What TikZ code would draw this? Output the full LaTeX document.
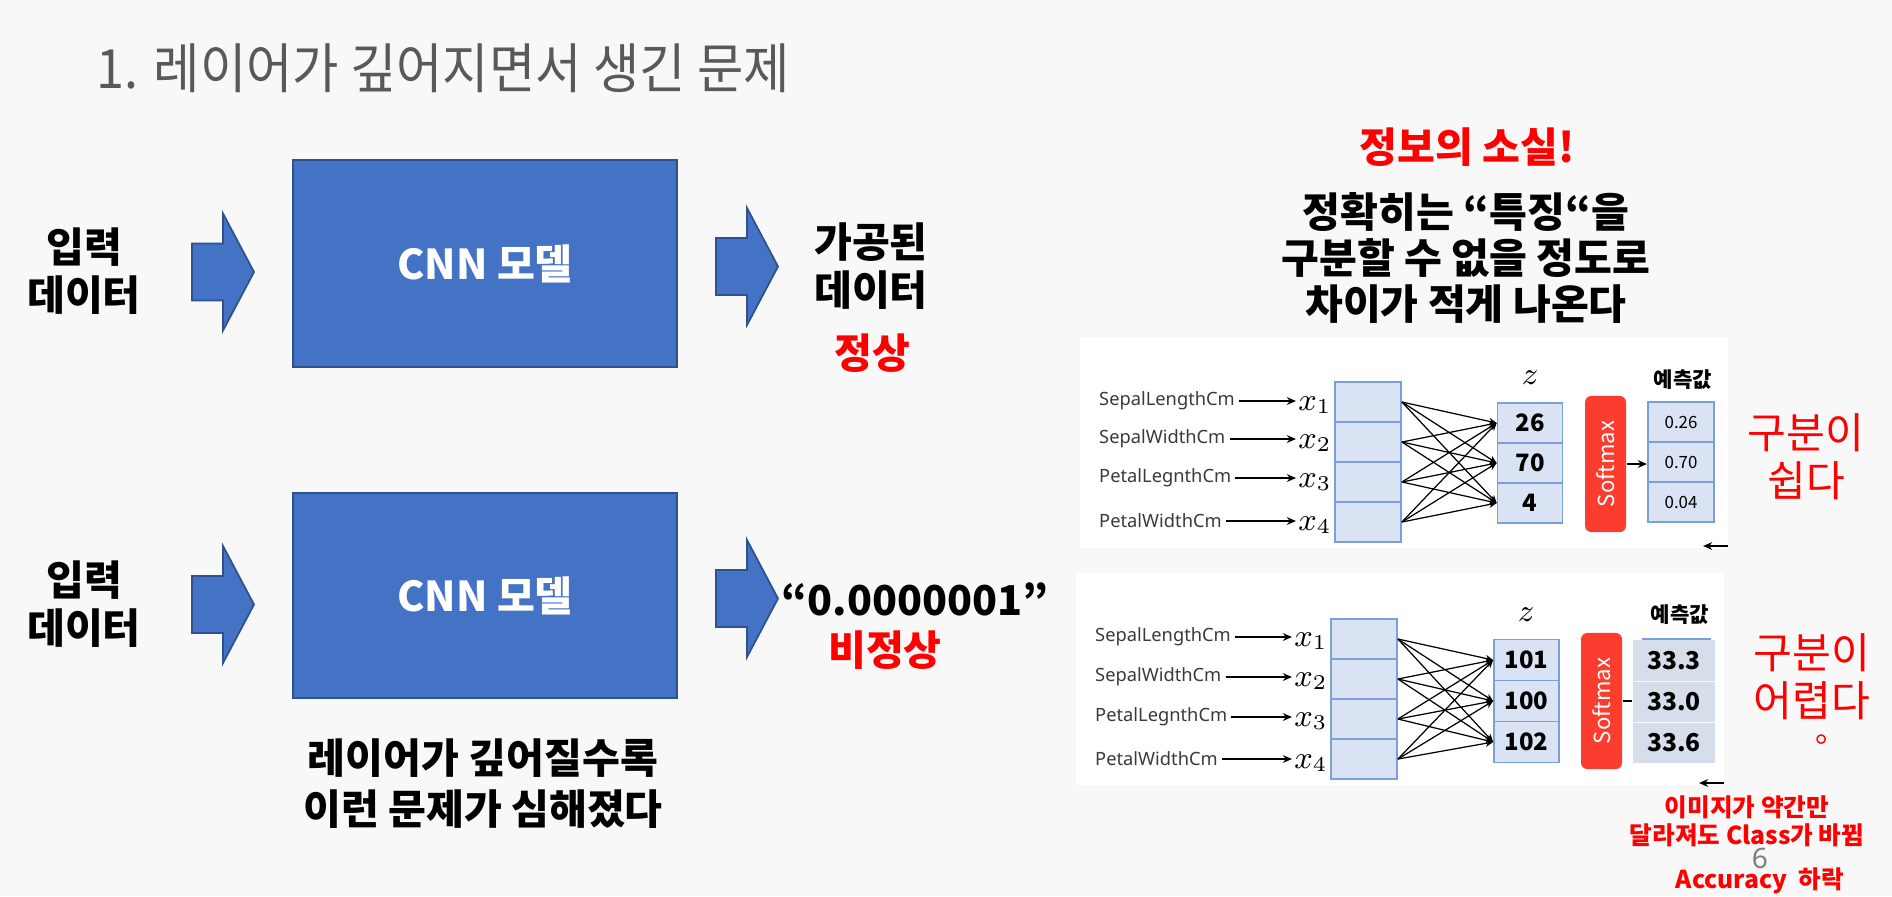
\documentclass[tikz,border=0pt]{standalone}
\usepackage[no-math]{fontspec}
\setmainfont{Noto Sans CJK KR}
\newfontfamily\latfont{Noto Sans}
\usetikzlibrary{arrows.meta,positioning}

\definecolor{bgc}{HTML}{F8F8F8}
\definecolor{boxblue}{HTML}{4472C4}
\definecolor{boxedge}{HTML}{2F528F}
\definecolor{alertred}{HTML}{FF0000}
\definecolor{softred}{HTML}{FA3D2E}
\definecolor{cellfill}{HTML}{DAE3F3}
\definecolor{celledge}{HTML}{7A9FDB}
\definecolor{predfill}{HTML}{D6DEEC}
\definecolor{titlegray}{HTML}{595959}
\definecolor{featgray}{HTML}{3A3A3A}

\tikzset{
  titletxt/.style={font=\fontsize{15.4}{18}\selectfont, text=titlegray, inner sep=0pt},
  bigtxt/.style={font=\fontsize{11.7}{13.7}\selectfont\bfseries, align=center, inner sep=0pt},
  judge/.style={font=\fontsize{12}{13.7}\selectfont, text=alertred, align=center, inner sep=0pt},
  note/.style={font=\fontsize{7}{8}\selectfont\bfseries, text=alertred, align=center, inner sep=0pt},
  cnnbox/.style={draw=boxedge, line width=0.5pt, fill=boxblue, text=white,
    font=\fontsize{11.7}{13.7}\selectfont\bfseries, minimum width=3.84cm},
  feat/.style={font=\latfont\fontsize{5.2}{6}\selectfont, text=featgray, inner sep=1pt},
  xvar/.style={font=\fontsize{9}{10}\selectfont, inner sep=0.5pt},
  incell/.style={draw=celledge, fill=cellfill, line width=0.5pt, minimum width=0.66cm, minimum height=0.4cm, inner sep=0pt},
  zcell/.style={incell, minimum width=0.65cm, font=\fontsize{6.8}{8}\selectfont\bfseries},
  predcell/.style={incell, line width=0.6pt, font=\fontsize{4.8}{6}\selectfont},
  predcellB/.style={fill=predfill, minimum width=0.82cm, minimum height=0.41cm, inner sep=0pt, font=\fontsize{7}{8}\selectfont\bfseries},
  smbox/.style={fill=softred, rounded corners=1.8pt, minimum width=0.41cm, minimum height=1.36cm, inner sep=0pt,
    text=white, font=\fontsize{6.3}{7}\selectfont},
  predhead/.style={font=\fontsize{6}{7}\selectfont\bfseries, inner sep=0pt},
  wire/.style={line width=0.35pt, -{Stealth[length=2.2pt,width=2pt]}},
  feedarr/.style={line width=0.4pt, -{Stealth[length=2.6pt,width=2.2pt]}},
  blockarr/.pic={
    \draw[fill=boxblue, draw=boxedge, line width=0.5pt]
      (0,-28.5) -- (31,-28.5) -- (31,-58.5) -- (62,0) -- (31,58.5) -- (31,28.5) -- (0,28.5) -- cycle;
  }
}

\begin{document}
\begin{tikzpicture}[x=0.01cm, y=-0.01cm, >=stealth]

  \fill[bgc] (0,0) rectangle (1892,896);
  \useasboundingbox (0,0) rectangle (1892,896);

  % ── title ──────────────────────────────────────────────
  \node[titletxt, anchor=west] (title) at (96,68) {\scalebox{0.93}[1]{1. 레이어가 깊어지면서 생긴 문제}};

  % ── left: normal case ──────────────────────────────────
  \node[bigtxt] (inA) at (84,271) {입력\\데이터};
  \pic (arrA1) at (192,272) {blockarr};
  \node[cnnbox, minimum height=2.07cm] (cnnA) at (485,263.5) {CNN 모델};
  \pic (arrA2) at (716,266.5) {blockarr};
  \node[bigtxt] (outA) at (871,266) {가공된\\데이터};
  \node[bigtxt, text=alertred] (okA) at (872,353) {정상};

  % ── left: deep case ────────────────────────────────────
  \node[bigtxt] (inB) at (84,604) {입력\\데이터};
  \pic (arrB1) at (192,604.5) {blockarr};
  \node[cnnbox, minimum height=2.05cm] (cnnB) at (485,595.5) {CNN 모델};
  \pic (arrB2) at (716,598.5) {blockarr};
  \node[bigtxt, anchor=west] (outB) at (781,599) {“0.0000001”};
  \node[bigtxt, text=alertred] (badB) at (885,650) {비정상};
  \node[bigtxt, font=\fontsize{11.7}{14.5}\selectfont\bfseries] (capB) at (483,784) {레이어가 깊어질수록\\이런 문제가 심해졌다};

  % ── right: header ──────────────────────────────────────
  \node[bigtxt, text=alertred] (lossT) at (1467,147) {정보의 소실!};
  \node[bigtxt, font=\fontsize{11.7}{13.2}\selectfont\bfseries] (lossD) at (1466,258) {정확히는 “특징“을\\구분할 수 없을 정도로\\차이가 적게 나온다};

  % ── panel A (easy) ─────────────────────────────────────
  \fill[white] (1080,337) rectangle (1728,548);
  \foreach \i/\t/\y in {1/SepalLengthCm/401, 2/SepalWidthCm/439, 3/PetalLegnthCm/478, 4/PetalWidthCm/521}{
    \node[feat, anchor=west] (fA\i) at (1095,\y) {\t};
    \node[xvar, anchor=west] (xA\i) at (1296,{\y+4}) {$x_\i$};
    \draw[feedarr] (fA\i.east) -- (fA\i.east -| xA\i.west);
  }
  \foreach \i in {1,...,4}
    \node[incell] (inA\i) at (1368,{362+40*\i}) {};
  \foreach \j/\v in {1/26,2/70,3/4}
    \node[zcell] (zA\j) at (1530,{383+40*\j}) {\v};
  \node[xvar] (zlA) at (1530,378) {$z$};
  \foreach \i in {1,...,4}
    \foreach \j in {1,2,3}
      \draw[wire] (inA\i.east) -- (zA\j.west);
  \node[smbox] (smA) at (1605.5,464) {\rotatebox{90}{Softmax}};
  \foreach \j/\v in {1/0.26,2/0.70,3/0.04}
    \node[predcell] (predA\j) at (1681,{382+40*\j}) {\v};
  \node[predhead] (phA) at (1683,380) {예측값};
  \draw[feedarr] (smA.east) -- (smA.east -| predA2.west);
  \coordinate (cutA) at (1728,546);
  \coordinate (cutAend) at (1703,546);
  \draw[feedarr] (cutA) -- (cutAend);
  \node[judge] (easyA) at (1806,457) {구분이\\쉽다};

  % ── panel B (hard) ─────────────────────────────────────
  \fill[white] (1076,573) rectangle (1724,785);
  \foreach \i/\t/\y in {1/SepalLengthCm/637, 2/SepalWidthCm/677, 3/PetalLegnthCm/717, 4/PetalWidthCm/759}{
    \node[feat, anchor=west] (fB\i) at (1091,\y) {\t};
    \node[xvar, anchor=west] (xB\i) at (1292,{\y+4}) {$x_\i$};
    \draw[feedarr] (fB\i.east) -- (fB\i.east -| xB\i.west);
  }
  \foreach \i in {1,...,4}
    \node[incell] (inB\i) at (1364,{599+40*\i}) {};
  \foreach \j/\v in {1/101,2/100,3/102}
    \node[zcell, minimum height=0.41cm] (zB\j) at (1526.5,{619+41*\j}) {\v};
  \node[xvar] (zlB) at (1526,615) {$z$};
  \foreach \i in {1,...,4}
    \foreach \j in {1,2,3}
      \draw[wire] (inB\i.east) -- (zB\j.west);
  \node[smbox] (smB) at (1601.5,701) {\rotatebox{90}{Softmax}};
  \foreach \j/\v in {1/33.3,2/33.0,3/33.6}
    \node[predcellB] (predB\j) at (1674,{619.5+41*\j}) {\v};
  \draw[line width=0.4pt] (smB.east) -- (smB.east -| predB2.west);
  \draw[celledge, line width=0.6pt] ([xshift=0.1cm]predB1.north west) -- ([xshift=-0.05cm]predB1.north east);
  \draw[white!85!predfill, line width=0.4pt] (predB1.south west) -- (predB1.south east);
  \draw[white!85!predfill, line width=0.4pt] (predB2.south west) -- (predB2.south east);
  \node[predhead] (phB) at (1680,615) {예측값};
  \coordinate (cutB) at (1724,783);
  \coordinate (cutBend) at (1699,783);
  \draw[feedarr] (cutB) -- (cutBend);
  \node[judge] (hardB) at (1812,677) {구분이\\어렵다};
  \node[judge, font=\fontsize{9}{10}\selectfont, text height=0.3em, text depth=0.05em] (dotB) at (1831,738) {。};

  % ── notes ──────────────────────────────────────────────
  \node[note] (noteB) at (1747,821) {이미지가 약간만\\달라져도 Class가 바뀜};
  \node[font=\latfont\fontsize{8}{9}\selectfont, text=gray, inner sep=0pt] (pg) at (1760,858) {6};
  \node[note] (accB) at (1760,881) {Accuracy\ \ 하락};

\end{tikzpicture}
\end{document}
